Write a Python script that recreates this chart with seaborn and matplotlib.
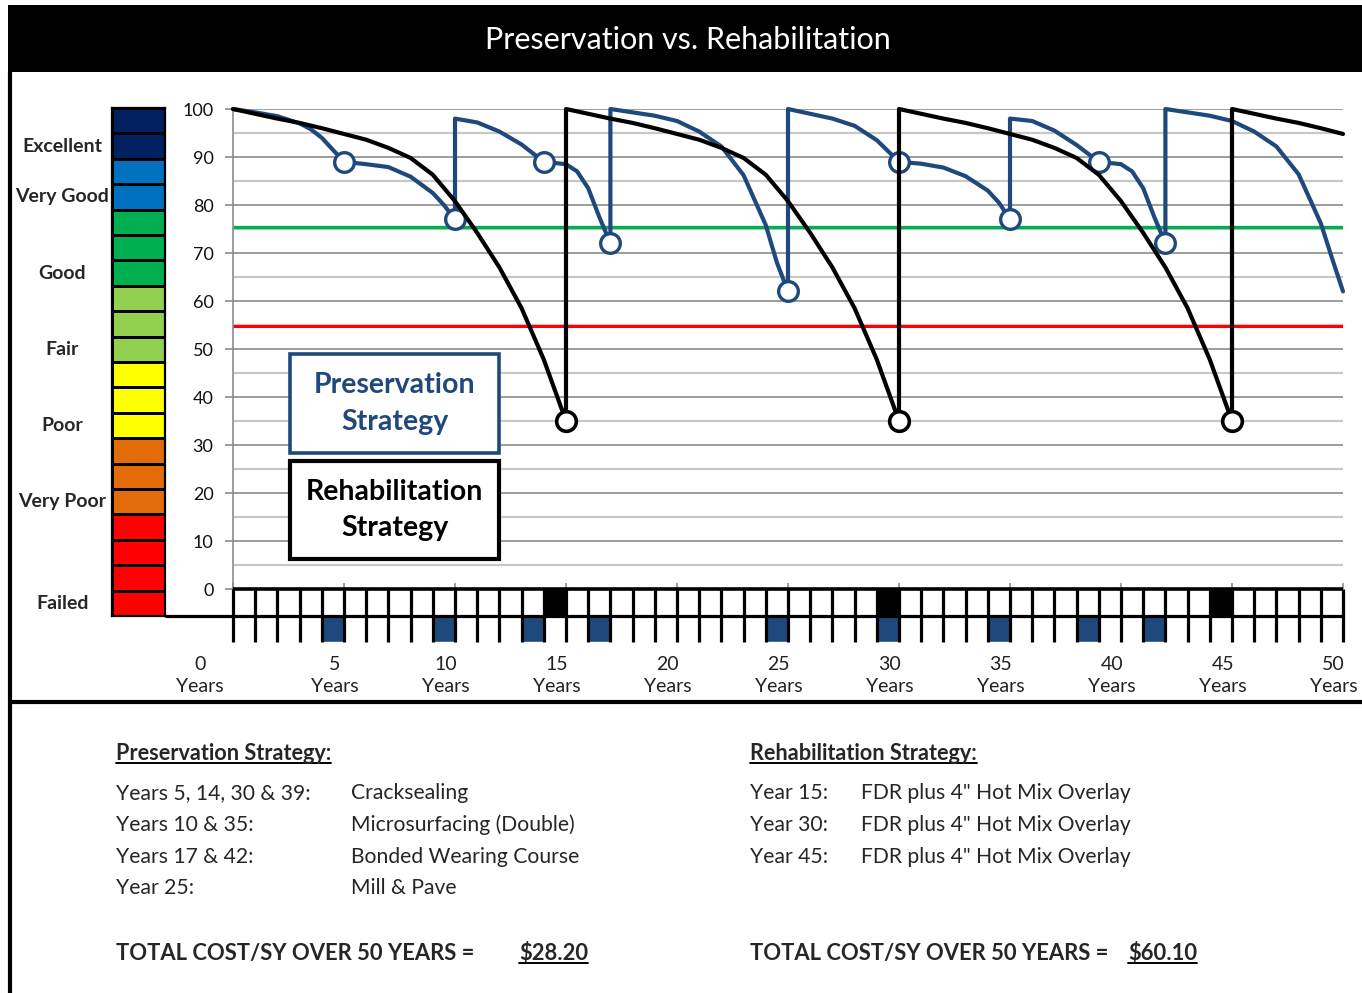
import numpy as np
import seaborn as sns
import matplotlib.pyplot as plt
import matplotlib.transforms as mtransforms
from matplotlib.colors import ListedColormap
from matplotlib.patches import Rectangle
from matplotlib.lines import Line2D

# ---------------- data ----------------
# Preservation strategy condition (repeated year = treatment jump)
pres_years = [0, 1, 2, 3, 3.5, 4, 4.5, 5, 6, 7, 8, 9, 9.5, 10,
              10, 11, 12, 13, 14, 15, 15.5, 16, 16.5, 17,
              17, 18, 19, 20, 21, 22, 23, 24, 24.5, 25,
              25, 26, 27, 28, 29, 30, 31, 32, 33, 34, 34.5, 35,
              35, 36, 37, 38, 39, 40, 40.5, 41, 41.5, 42,
              42, 43, 44, 45, 46, 47, 48, 49, 49.5, 50]
pres_pci = [100, 99.3, 98.5, 97, 95.8, 94, 91.5, 89, 88.5, 87.9, 85.9, 82.5, 80, 77,
            98, 97.2, 95.3, 92.6, 89, 88.5, 87, 83.5, 77.5, 72,
            100, 99.3, 98.6, 97.5, 95.3, 92.2, 86.2, 75.8, 68, 62,
            100, 99, 98, 96.5, 93.5, 89, 88.6, 87.8, 86, 83, 80.5, 77,
            98, 97.5, 95.5, 92.5, 89, 88.5, 87, 83.5, 77.5, 72,
            100, 99.3, 98.6, 97.5, 95.3, 92.2, 86.4, 76.2, 69, 62]

# Rehabilitation strategy condition
rehab_years = [0, 1, 2, 3, 4, 5, 6, 7, 8, 9, 10, 11, 12, 13, 14, 15,
               15, 16, 17, 18, 19, 20, 21, 22, 23, 24, 25, 26, 27, 28, 29, 30,
               30, 31, 32, 33, 34, 35, 36, 37, 38, 39, 40, 41, 42, 43, 44, 45,
               45, 46, 47, 48, 49, 50]
rehab_pci = [100, 99, 98, 97.1, 96, 94.8, 93.6, 91.9, 89.8, 86.3, 80.8, 74.2, 67, 58.5, 47.8, 35,
             100, 99, 98, 97.1, 96, 94.8, 93.6, 91.9, 89.8, 86.3, 80.8, 74.2, 67, 58.5, 47.8, 35,
             100, 99, 98, 97.1, 96, 94.8, 93.6, 91.9, 89.8, 86.3, 80.8, 74.2, 67, 58.5, 47.8, 35,
             100, 99, 98, 97.1, 96, 94.8]

# treatment points
pres_treat_years = [5, 10, 14, 17, 25, 30, 35, 39, 42]
pres_treat_pci = [89, 77, 89, 72, 62, 89, 77, 89, 72]
rehab_treat_years = [15, 30, 45]
rehab_treat_pci = [35, 35, 35]

good_threshold = 75.5
poor_threshold = 54.7

# condition colour scale, top to bottom (one code per cell)
condition_codes = [0, 0, 1, 1, 2, 2, 2, 3, 3, 3, 4, 4, 4, 5, 5, 5, 6, 6, 6, 6]
condition_palette = ["#002060", "#0070C0", "#00B050", "#92D050", "#FFFF00", "#E26B0A", "#FF0000"]
condition_labels = ["Excellent", "Very Good", "Good", "Fair", "Poor", "Very Poor", "Failed"]
condition_label_rows = [1.5, 3.5, 6.5, 9.5, 12.5, 15.5, 19.5]

year_ticks = [0, 5, 10, 15, 20, 25, 30, 35, 40, 45, 50]

pres_rows = [("Years 5, 14, 30 & 39:", "Cracksealing"),
             ("Years 10 & 35:", "Microsurfacing (Double)"),
             ("Years 17 & 42:", "Bonded Wearing Course"),
             ("Year 25:", "Mill & Pave")]
rehab_rows = [("Year 15:", 'FDR plus 4" Hot Mix Overlay'),
              ("Year 30:", 'FDR plus 4" Hot Mix Overlay'),
              ("Year 45:", 'FDR plus 4" Hot Mix Overlay')]
pres_total = "$28.20"
rehab_total = "$60.10"

BLUE = "#1F497D"
W, H = 1362, 993


def fx(px):
    return px / W


def fy(py):
    return 1 - py / H


sns.set_style("white")
plt.rcParams['font.family'] = ['Lato', 'DejaVu Sans']

fig = plt.figure(figsize=(W / 100, H / 100), dpi=100)

# ---------------- main chart ----------------
ax = fig.add_axes([fx(233), fy(589), fx(1110), 480 / H])
ax.set_axisbelow(True)
ax.yaxis.grid(True, which='major', color='#8C8C8C', lw=1.2)
ax.yaxis.grid(True, which='minor', color='#C8C8C8', lw=1.6)
ax.axhline(good_threshold, color='#00B050', lw=2.4, zorder=2)
ax.axhline(poor_threshold, color='#FF0000', lw=2.2, zorder=2)

sns.lineplot(x=pres_years, y=pres_pci, sort=False, estimator=None,
             color=BLUE, lw=3, ax=ax, zorder=3, clip_on=False)
sns.scatterplot(x=pres_treat_years, y=pres_treat_pci, s=200, color='white',
                edgecolor=BLUE, linewidth=2.4, ax=ax, zorder=4, clip_on=False)
sns.lineplot(x=rehab_years, y=rehab_pci, sort=False, estimator=None,
             color='black', lw=3, ax=ax, zorder=5, clip_on=False)
sns.scatterplot(x=rehab_treat_years, y=rehab_treat_pci, s=200, color='white',
                edgecolor='black', linewidth=2.6, ax=ax, zorder=6, clip_on=False)

ax.set_xlim(0, 50)
ax.set_ylim(0, 100)
ax.set_yticks(range(0, 101, 10))
ax.set_yticks(range(5, 100, 10), minor=True)
ax.set_xticks(year_ticks)
ax.tick_params(axis='y', which='major', left=True, length=6, width=1.2,
               color='#8C8C8C', pad=8, labelsize=13, labelcolor='#111111')
ax.tick_params(axis='y', which='minor', length=0)
ax.tick_params(axis='x', bottom=True, direction='in', length=4, width=1.2,
               color='#8C8C8C', labelbottom=False)
for side in ['top', 'right', 'bottom']:
    ax.spines[side].set_visible(False)
ax.spines['left'].set_color('#8C8C8C')
ax.spines['left'].set_linewidth(1.2)

# legend boxes
ax.add_patch(Rectangle((0.0514, 0.283), 0.188, 0.206, transform=ax.transAxes,
                       facecolor='white', edgecolor=BLUE, lw=2.6, zorder=7))
ax.text(0.1455, 0.386, "Preservation\nStrategy", transform=ax.transAxes,
        ha='center', va='center', fontsize=20.5, fontweight='bold', color=BLUE,
        linespacing=1.5, zorder=8)
ax.add_patch(Rectangle((0.0514, 0.0625), 0.188, 0.204, transform=ax.transAxes,
                       facecolor='white', edgecolor='black', lw=3, zorder=7))
ax.text(0.1455, 0.165, "Rehabilitation\nStrategy", transform=ax.transAxes,
        ha='center', va='center', fontsize=20.5, fontweight='bold', color='black',
        linespacing=1.5, zorder=8)

# ---------------- condition colour bar ----------------
cb = fig.add_axes([fx(112), fy(616), fx(53), 508 / H])
sns.heatmap(np.array(condition_codes).reshape(-1, 1), cmap=ListedColormap(condition_palette),
            vmin=0, vmax=len(condition_palette) - 1, cbar=False, linewidths=2,
            linecolor='black', xticklabels=False, yticklabels=False, ax=cb)
for s in cb.spines.values():
    s.set_visible(True)
    s.set_color('black')
    s.set_linewidth(1.6)
for lab, row in zip(condition_labels, condition_label_rows):
    cb.text(-0.94, row, lab, ha='center', va='center', fontsize=14,
            fontweight='bold', clip_on=False)

# ---------------- treatment timeline ----------------
tl = fig.add_axes([fx(233), fy(642), fx(1110), 53 / H])
tl.set_xlim(0, 50)
tl.set_ylim(0, 2)
tl.axis('off')
tl.bar(np.array(pres_treat_years) - 0.5, 1, width=1, bottom=0, color=BLUE)
tl.bar(np.array(rehab_treat_years) - 0.5, 1, width=1, bottom=1, color='black')
tl.vlines(np.arange(0, 51), 0, 2, color='black', lw=2.3, clip_on=False)
tl.hlines(2, 0, 50, color='black', lw=2.6, clip_on=False)
tl.hlines(1, -3.06, 50, color='black', lw=2.3, clip_on=False)

trans = mtransforms.blended_transform_factory(tl.transData, fig.transFigure)
for yr in year_ticks:
    xpos = -1.5 if yr == 0 else yr - 0.42
    tl.text(xpos, fy(664), str(yr), transform=trans, ha='center', va='center',
            fontsize=14, color='#222222')
    tl.text(xpos, fy(686), "Years", transform=trans, ha='center', va='center',
            fontsize=14, color='#222222')

# ---------------- frame and title ----------------
fig.add_artist(Rectangle((fx(8), fy(72)), 1 - fx(8), 67 / H, transform=fig.transFigure,
                         facecolor='black', edgecolor='none'))
fig.text(fx(688), fy(40), "Preservation vs. Rehabilitation", color='white',
         fontsize=22, ha='center', va='center')
fig.add_artist(Line2D([fx(10), fx(10)], [fy(72), 0], color='black', lw=3,
                      transform=fig.transFigure))
fig.add_artist(Line2D([fx(10), 1], [fy(702), fy(702)], color='black', lw=3,
                      transform=fig.transFigure))

# ---------------- strategy summary ----------------
underlined = []
underlined.append(fig.text(fx(116), fy(760), "Preservation Strategy:", fontsize=15.6,
                           fontweight='bold', va='baseline'))
underlined.append(fig.text(fx(750), fy(760), "Rehabilitation Strategy:", fontsize=15.6,
                           fontweight='bold', va='baseline'))
row_base = [799, 831, 863, 894]
for (a, b), yb in zip(pres_rows, row_base):
    fig.text(fx(116), fy(yb), a, fontsize=15.2, va='baseline')
    fig.text(fx(351), fy(yb), b, fontsize=15.2, va='baseline')
for (a, b), yb in zip(rehab_rows, row_base):
    fig.text(fx(750), fy(yb), a, fontsize=15.2, va='baseline')
    fig.text(fx(861), fy(yb), b, fontsize=15.2, va='baseline')
fig.text(fx(116), fy(960), "TOTAL COST/SY OVER 50 YEARS =", fontsize=15.8,
         fontweight='bold', va='baseline')
fig.text(fx(750), fy(960), "TOTAL COST/SY OVER 50 YEARS =", fontsize=15.8,
         fontweight='bold', va='baseline')
underlined.append(fig.text(fx(519), fy(960), pres_total, fontsize=15.8,
                           fontweight='bold', va='baseline'))
underlined.append(fig.text(fx(1128), fy(960), rehab_total, fontsize=15.8,
                           fontweight='bold', va='baseline'))

fig.canvas.draw()
renderer = fig.canvas.get_renderer()
for t in underlined:
    bb = t.get_window_extent(renderer)
    ybase = t.get_position()[1] - 3 / H
    fig.add_artist(Line2D([bb.x0 / W, bb.x1 / W], [ybase, ybase], color='black',
                          lw=1.4, transform=fig.transFigure))

fig.savefig("out.png", dpi=100)
